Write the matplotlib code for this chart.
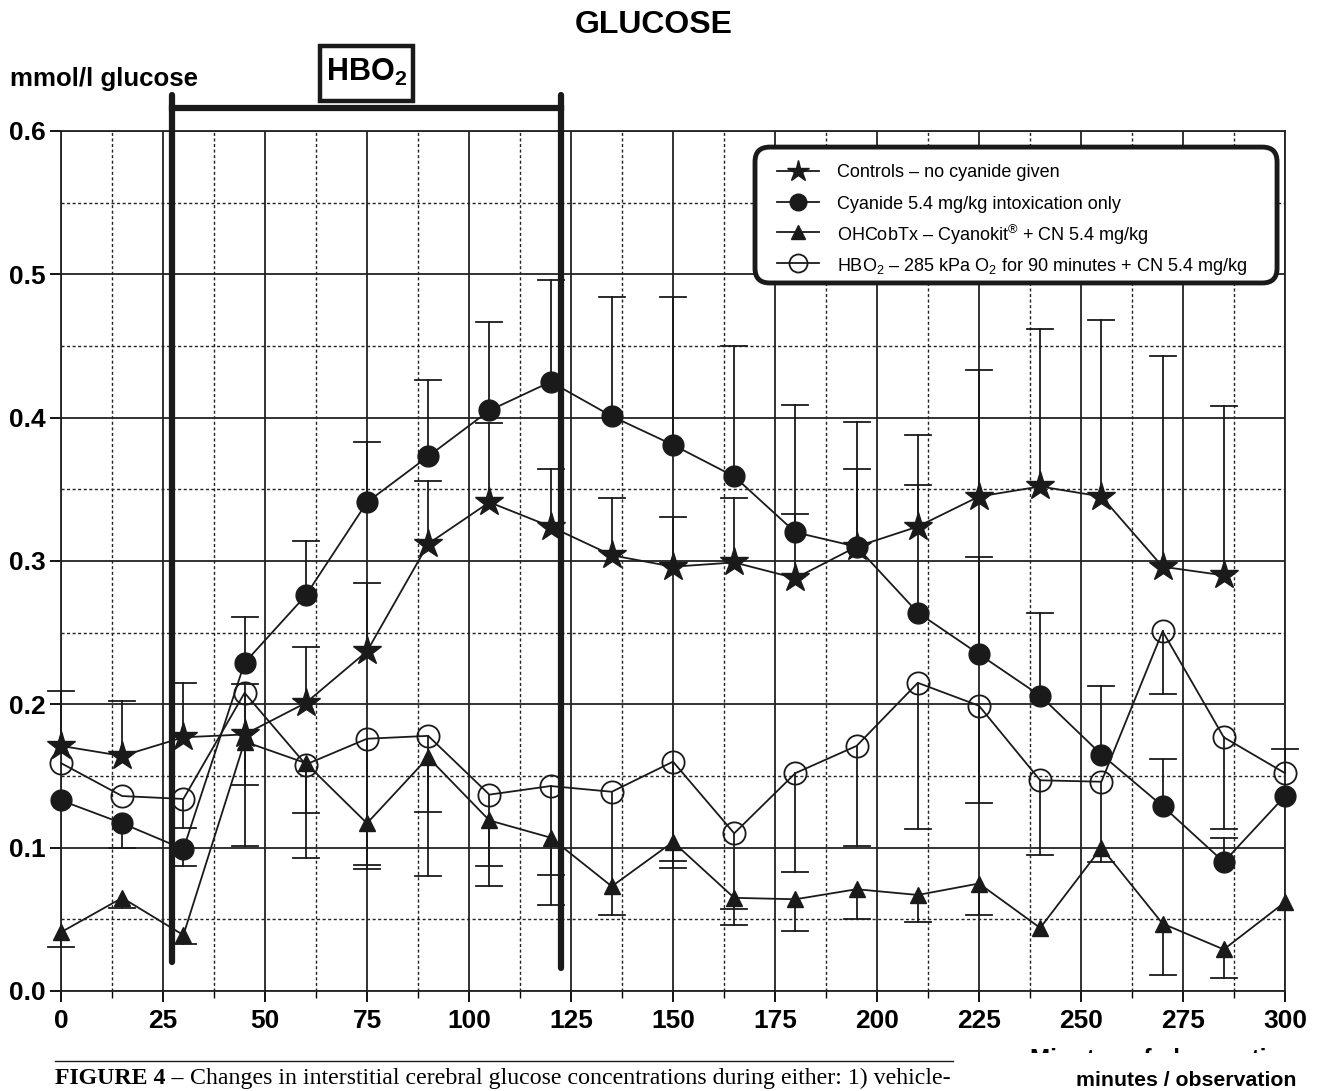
import matplotlib
matplotlib.use('Agg')
import matplotlib.pyplot as plt
from matplotlib.lines import Line2D
from matplotlib.patches import Rectangle, FancyBboxPatch
from matplotlib.ticker import MultipleLocator, FormatStrFormatter

plt.rcParams['font.family'] = ['Liberation Sans', 'DejaVu Sans']
plt.rcParams['mathtext.fontset'] = 'custom'
plt.rcParams['mathtext.rm'] = 'Liberation Sans'
plt.rcParams['mathtext.bf'] = 'Liberation Sans:bold'

# minutes of observation
minutes = [0, 15, 30, 45, 60, 75, 90, 105, 120, 135, 150, 165, 180, 195, 210, 225, 240, 255, 270, 285, 300]

# mean glucose (mmol/l) per group
controls = [0.171, 0.164, 0.177, 0.179, 0.201, 0.237, 0.312, 0.341, 0.324, 0.304, 0.296,
            0.299, 0.288, 0.310, 0.324, 0.345, 0.352, 0.345, 0.296, 0.290, None]
cyanide = [0.133, 0.117, 0.099, 0.229, 0.276, 0.341, 0.373, 0.405, 0.425, 0.401, 0.381,
           0.359, 0.320, 0.310, 0.264, 0.235, 0.206, 0.165, 0.129, 0.090, 0.136]
ohcob = [0.041, 0.065, 0.039, 0.174, 0.159, 0.117, 0.163, 0.119, 0.107, 0.073, 0.104,
         0.065, 0.064, 0.071, 0.067, 0.075, 0.044, 0.100, 0.047, 0.029, 0.062]
hbo2 = [0.159, 0.136, 0.134, 0.208, 0.158, 0.176, 0.178, 0.137, 0.143, 0.139, 0.160,
        0.110, 0.152, 0.171, 0.215, 0.199, 0.147, 0.146, 0.251, 0.177, 0.152]

# end of the (one-sided) error bar, None = no bar drawn
controls_err = [0.209, 0.202, 0.215, 0.214, 0.240, 0.285, 0.356, 0.396, 0.364, 0.344, 0.331,
                0.344, 0.333, 0.364, 0.388, 0.433, 0.462, 0.468, 0.443, 0.408, None]
cyanide_err = [None, 0.100, 0.087, 0.261, 0.314, 0.383, 0.426, 0.467, 0.496, 0.484, 0.484,
               0.450, 0.409, 0.397, 0.353, 0.303, 0.264, 0.213, 0.162, 0.107, None]
ohcob_err = [0.031, 0.058, 0.033, 0.101, 0.124, 0.088, 0.125, 0.087, 0.081, None, 0.091,
             0.057, 0.042, 0.050, 0.048, 0.053, None, None, 0.011, 0.009, None]
hbo2_err = [None, None, 0.114, 0.144, 0.093, 0.085, 0.080, 0.073, 0.060, 0.053, 0.086,
            0.046, 0.083, 0.101, 0.113, 0.131, 0.095, 0.090, 0.207, 0.113, 0.169]

labels = ['Controls \u2013 no cyanide given',
          'Cyanide 5.4 mg/kg intoxication only',
          'OHCobTx \u2013 Cyanokit$^{\\circledR}$ + CN 5.4 mg/kg',
          'HBO$_2$ \u2013 285 kPa O$_2$ for 90 minutes + CN 5.4 mg/kg']

# HBO2 treatment period (minutes)
hbo_start, hbo_end = 27.2, 122.6

INK = '#1a1a1a'

fig = plt.figure(figsize=(13.2, 10.91), dpi=100)
ax = fig.add_axes([61 / 1320, 1 - 991 / 1091, 1224 / 1320, 860 / 1091])

ax.set_xlim(0, 300)
ax.set_ylim(0, 0.6)
ax.xaxis.set_major_locator(MultipleLocator(25))
ax.xaxis.set_minor_locator(MultipleLocator(12.5))
ax.yaxis.set_major_locator(MultipleLocator(0.1))
ax.yaxis.set_minor_locator(MultipleLocator(0.05))
ax.yaxis.set_major_formatter(FormatStrFormatter('%.1f'))
ax.set_axisbelow(True)
ax.grid(which='major', color='#222222', lw=1.3, ls='-')
ax.grid(which='minor', color='#222222', lw=1.0, ls=(0, (2.2, 1.8)))
for s in ax.spines.values():
    s.set_linewidth(1.3)
    s.set_color('#222222')
ax.tick_params(which='major', direction='out', length=8, width=1.3, pad=5, labelsize=19)
ax.tick_params(axis='y', which='major', pad=3)
ax.tick_params(which='minor', direction='out', length=5, width=1.0)
ax.tick_params(axis='y', which='minor', length=0)
for lab in ax.get_xticklabels() + ax.get_yticklabels():
    lab.set_fontweight('bold')


def draw_bars(vals, ends):
    for x, v, e in zip(minutes, vals, ends):
        if v is None or e is None:
            continue
        ax.plot([x, x], [v, e], color=INK, lw=1.3, zorder=3, clip_on=False)
        ax.plot([x - 3.2, x + 3.2], [e, e], color=INK, lw=1.3, zorder=3, clip_on=False)


def series(vals):
    xs = [m for m, v in zip(minutes, vals) if v is not None]
    ys = [v for v in vals if v is not None]
    return xs, ys


draw_bars(controls, controls_err)
draw_bars(cyanide, cyanide_err)
draw_bars(ohcob, ohcob_err)
draw_bars(hbo2, hbo2_err)

styles = [dict(marker='*', ms=21, mfc=INK, mec=INK),
          dict(marker='o', ms=15, mfc=INK, mec=INK),
          dict(marker='^', ms=12, mfc=INK, mec=INK),
          dict(marker='o', ms=16, mfc='none', mec=INK, mew=1.3)]

for vals, st in zip([controls, cyanide, ohcob, hbo2], styles):
    ax.plot(*series(vals), color=INK, lw=1.3, zorder=4, clip_on=False, **st)

# legend box (drawn by hand so the rows are evenly spaced)
ax.add_patch(FancyBboxPatch((0.567, 0.8233), 0.4265, 0.158, transform=ax.transAxes,
                            boxstyle='round,pad=0,rounding_size=0.012', fc='white',
                            ec=INK, lw=3.5, zorder=10, mutation_aspect=1224 / 860))
legend_rows = [0.9535, 0.9174, 0.8826, 0.8465]
legend_ms = [16, 12, 10, 13]
for y, st, lab, ms in zip(legend_rows, styles, labels, legend_ms):
    st = dict(st, ms=ms)
    ax.add_line(Line2D([0.585, 0.619], [y, y], transform=ax.transAxes, color=INK, lw=1.3,
                       zorder=11))
    ax.plot([0.602], [y], transform=ax.transAxes, color=INK, zorder=11, **st)
    ax.text(0.634, y, lab, transform=ax.transAxes, ha='left', va='center_baseline',
            fontsize=13, zorder=12)

# HBO2 period bracket
ax.plot([hbo_start, hbo_start], [0.02, 0.625], color=INK, lw=4.5, zorder=5,
        clip_on=False, solid_capstyle='round')
ax.plot([hbo_end, hbo_end], [0.016, 0.625], color=INK, lw=4.5, zorder=5,
        clip_on=False, solid_capstyle='round')
ax.plot([hbo_start, hbo_end], [0.616, 0.616], color=INK, lw=4.5, zorder=5, clip_on=False)
ax.add_patch(Rectangle((63.6, 0.621), 22.7, 0.0385, fc='white', ec=INK, lw=3.2,
                       clip_on=False, zorder=5))
ax.text(74.9, 0.6405, r'$\mathbf{HBO_2}$', ha='center', va='center', fontsize=22, zorder=6)

fig.text(654 / 1320, 1 - 25 / 1091, 'GLUCOSE', ha='center', va='center',
         fontsize=23, fontweight='bold')
fig.text(10 / 1320, 1 - 79 / 1091, 'mmol/l glucose', ha='left', va='center',
         fontsize=18.6, fontweight='bold')

# caption area
fig.add_artist(Line2D([55 / 1320, 953 / 1320], [1 - 1061 / 1091] * 2, color=INK, lw=1.0))
cap1 = fig.text(55 / 1320, 1 - 1084 / 1091, 'FIGURE 4 \u2013', ha='left', va='baseline',
                fontsize=17.2, fontweight='bold', family='Liberation Serif')
ax.annotate(' Changes in interstitial cerebral glucose concentrations during either: 1) vehicle-',
            xy=(1, 0), xycoords=cap1, va='bottom', ha='left', fontsize=17.2,
            family='Liberation Serif', annotation_clip=False)
cut = fig.text(1163 / 1320, 1 - 1066 / 1091, 'Minutes of observation', ha='center',
               va='baseline', fontsize=17.5, fontweight='bold', zorder=3)
fig.add_artist(Rectangle((990 / 1320, 1 - 1071 / 1091), 330 / 1320, 18 / 1091,
                         transform=fig.transFigure, fc='white', ec='none', zorder=5))
fig.text(1186 / 1320, 1 - 1080 / 1091, 'minutes / observation', ha='center', va='center',
         fontsize=15.3, fontweight='bold', zorder=6)

fig.savefig('out.png', dpi=100)
